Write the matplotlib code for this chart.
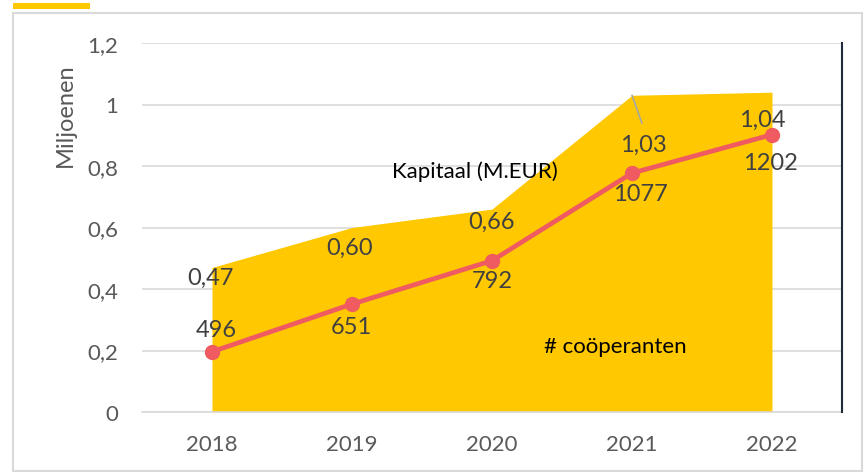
import matplotlib

matplotlib.use("Agg")

import matplotlib.pyplot as plt
from matplotlib.patches import Rectangle
from matplotlib.ticker import FuncFormatter

years = ["2018", "2019", "2020", "2021", "2022"]
kapitaal = [0.47, 0.60, 0.66, 1.03, 1.04]
kapitaal_labels = ["0,47", "0,60", "0,66", "1,03", "1,04"]
cooperanten = [496, 651, 792, 1077, 1202]

# label offsets in pixels (dx, dy)
kap_offsets = [(-2, -10), (-2, -20), (0, -12), (11, -49), (-10, -27)]
coop_offsets = [(4, 22), (-1, -22), (0, -20), (8, -20), (-2, -28)]

YELLOW = "#FFC800"
RED = "#EF5B60"
TEXT = "#404040"
TICK = "#595959"
GRID = "#D9D9D9"

plt.rcParams["font.family"] = ["Lato", "DejaVu Sans"]


def comma(v, pos):
    s = f"{v:.1f}".replace(".", ",")
    return s[:-2] if s.endswith(",0") else s


fig = plt.figure(figsize=(8.65, 4.77), dpi=100)
ax = fig.add_axes([142 / 865, 1 - 413 / 477, 700 / 865, 369 / 477])
ax2 = ax.twinx()

x = list(range(len(years)))
ax.fill_between(x, 0, kapitaal, color=YELLOW, linewidth=0, zorder=2)
ax.set_xlim(-0.5, 4.5)
ax.set_ylim(0, 1.2)
ax.set_yticks([0, 0.2, 0.4, 0.6, 0.8, 1.0, 1.2])
ax.yaxis.set_major_formatter(FuncFormatter(comma))
ax.set_xticks(x)
ax.set_xticklabels(years)
ax.grid(axis="y", color=GRID, linewidth=1.2, zorder=0)
ax.set_axisbelow(True)
for side in ["top", "right", "left"]:
    ax.spines[side].set_visible(False)
ax.spines["bottom"].set_color(GRID)
ax.spines["bottom"].set_linewidth(1.2)
ax.tick_params(axis="both", length=0, labelsize=16, labelcolor=TICK)
ax.tick_params(axis="y", pad=17)
ax.tick_params(axis="x", pad=16)

ax2.plot(x, cooperanten, color=RED, linewidth=3.4, marker="o", markersize=10, zorder=3)
ax2.set_ylim(300, 1500)
ax2.set_yticks([])
for side in ["top", "left", "bottom"]:
    ax2.spines[side].set_visible(False)
ax2.spines["right"].set_color("#1F2A3A")
ax2.spines["right"].set_linewidth(1.5)

for i, (val, lab) in enumerate(zip(kapitaal, kapitaal_labels)):
    ax.annotate(lab, (i, val), xytext=kap_offsets[i], textcoords="offset pixels",
                ha="center", va="center", fontsize=17, color=TEXT, zorder=5)
# leader line for 2021 label
ax.annotate("", (3, kapitaal[3]), xytext=(10, -28), textcoords="offset pixels",
            arrowprops=dict(arrowstyle="-", color="#A6A6A6", linewidth=1.2,
                            shrinkA=0, shrinkB=0))

for i, val in enumerate(cooperanten):
    ax2.annotate(str(val), (i, val), xytext=coop_offsets[i], textcoords="offset pixels",
                 ha="center", va="center", fontsize=17, color=TEXT, zorder=5)

fig.text(65 / 865, 1 - 115 / 477, "Miljoenen", rotation=90, ha="center", va="center",
         fontsize=17, color=TICK)
fig.text(475 / 865, 1 - 172 / 477, "Kapitaal (M.EUR)", ha="center", va="center",
         fontsize=16, color="black")
fig.text(615 / 865, 1 - 347 / 477, "# coöperanten", ha="center", va="center",
         fontsize=16, color="black")

# outer border and accent bar
fig.patches.append(Rectangle((13 / 865, 1 - 472 / 477), 849 / 865, 458 / 477,
                             transform=fig.transFigure, facecolor="none",
                             edgecolor=GRID, linewidth=1.5))
fig.patches.append(Rectangle((13 / 865, 1 - 10 / 477), 77 / 865, 6 / 477,
                             transform=fig.transFigure, facecolor=YELLOW,
                             edgecolor="none"))

fig.savefig("out.png", dpi=100, facecolor="white")
